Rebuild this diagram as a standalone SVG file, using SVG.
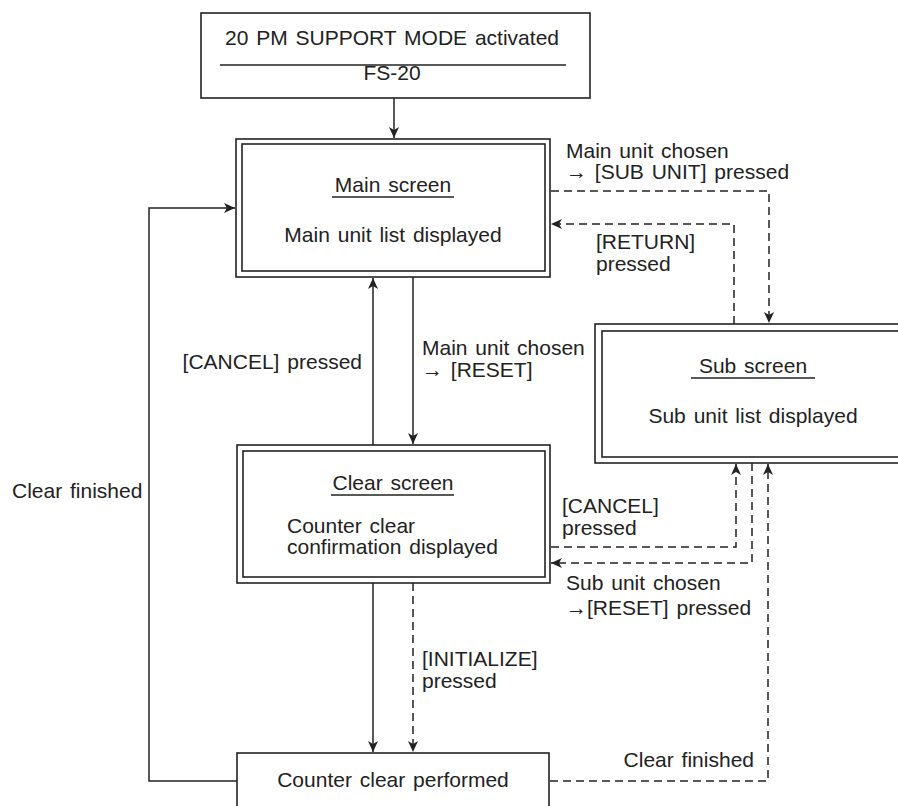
<svg xmlns="http://www.w3.org/2000/svg" width="898" height="806" viewBox="0 0 898 806">
<style>
.t{font-family:"Liberation Sans",Arial,sans-serif;font-size:21px;fill:#222;word-spacing:2px}
.c{text-anchor:middle}
.e{text-anchor:end}
.b{fill:none;stroke:#222;stroke-width:1.6}
.l{fill:none;stroke:#222;stroke-width:1.5}
.d{fill:none;stroke:#222;stroke-width:1.5;stroke-dasharray:8 5}
</style>
<defs>
<marker id="ah" markerUnits="userSpaceOnUse" markerWidth="12" markerHeight="10" refX="11" refY="5" orient="auto">
<path d="M0,0 L11,5 L0,10 L3,5 z" fill="#222"/>
</marker>
</defs>
<rect width="898" height="806" fill="#fff"/>

<g id="connectors">
<path class="l" d="M394,98 V138" marker-end="url(#ah)"/>
<path class="l" d="M237,781 H149 V208 H235" marker-end="url(#ah)"/>
<path class="l" d="M373,445 V278" marker-end="url(#ah)"/>
<path class="l" d="M413,277 V444" marker-end="url(#ah)"/>
<path class="d" d="M551,191 H769 V323" marker-end="url(#ah)"/>
<path class="d" d="M734,324 V224 H551" marker-end="url(#ah)"/>
<path class="d" d="M551,547 H736 V464" marker-end="url(#ah)"/>
<path class="d" d="M752,463 V563 H551" marker-end="url(#ah)"/>
<path class="d" d="M550,781 H768 V464" marker-end="url(#ah)"/>
<path class="l" d="M373,583 V752" marker-end="url(#ah)"/>
<path class="d" d="M413,583 V752" marker-end="url(#ah)"/>
<text class="t" x="566" y="158">Main unit chosen</text>
<text class="t" x="566" y="179">→ [SUB UNIT] pressed</text>
<text class="t" x="596" y="249">[RETURN]</text>
<text class="t" x="596" y="271">pressed</text>
<text class="t e" x="362" y="369">[CANCEL] pressed</text>
<text class="t" x="422" y="355">Main unit chosen</text>
<text class="t" x="422" y="377">→ [RESET]</text>
<text class="t" x="12" y="498">Clear finished</text>
<text class="t" x="562" y="513">[CANCEL]</text>
<text class="t" x="562" y="535">pressed</text>
<text class="t" x="566" y="590">Sub unit chosen</text>
<text class="t" x="566" y="615">→[RESET] pressed</text>
<text class="t" x="422" y="666">[INITIALIZE]</text>
<text class="t" x="422" y="688">pressed</text>
<text class="t e" x="754" y="767">Clear finished</text>
</g>

<g id="node-start">
<rect class="b" x="201" y="13" width="389" height="85"/>
<line class="l" x1="220" y1="65" x2="566" y2="65"/>
<text class="t c" x="392" y="45">20 PM SUPPORT MODE activated</text>
<text class="t c" x="392" y="80">FS-20</text>
</g>

<g id="node-main">
<rect class="b" x="236" y="139" width="314" height="138"/>
<rect class="b" x="242" y="144" width="303" height="127"/>
<text class="t c" x="393" y="192">Main screen</text>
<line class="l" x1="332" y1="197" x2="454" y2="197"/>
<text class="t c" x="393" y="242">Main unit list displayed</text>
</g>

<g id="node-sub">
<rect class="b" x="595" y="324" width="330" height="139"/>
<rect class="b" x="602" y="331" width="320" height="126"/>
<text class="t c" x="753" y="373">Sub screen</text>
<line class="l" x1="691" y1="378" x2="815" y2="378"/>
<text class="t c" x="753" y="423">Sub unit list displayed</text>
</g>

<g id="node-clear">
<rect class="b" x="237" y="445" width="313" height="138"/>
<rect class="b" x="243" y="451" width="302" height="126"/>
<text class="t c" x="393" y="490">Clear screen</text>
<line class="l" x1="331" y1="495" x2="454" y2="495"/>
<text class="t" x="287" y="533">Counter clear</text>
<text class="t" x="287" y="554">confirmation displayed</text>
</g>

<g id="node-counter">
<rect class="b" x="237" y="753" width="312" height="80"/>
<text class="t c" x="393" y="787">Counter clear performed</text>
</g>
</svg>
